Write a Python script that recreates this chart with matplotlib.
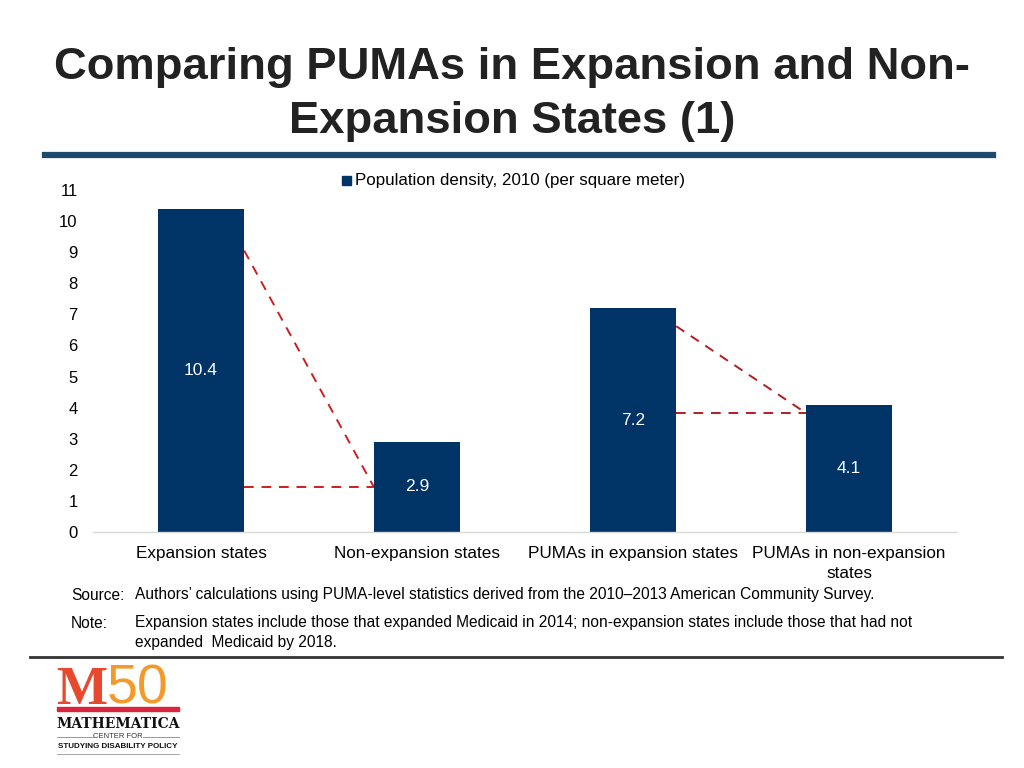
import numpy as np
import matplotlib
matplotlib.use("Agg")
from matplotlib import pyplot as plt
from matplotlib.lines import Line2D
from matplotlib.patches import Rectangle

plt.rcParams['font.family'] = ['Liberation Sans', 'DejaVu Sans']

# data
categories = ["Expansion states", "Non-expansion states",
              "PUMAs in expansion states", "PUMAs in non-expansion\nstates"]
density = [10.4, 2.9, 7.2, 4.1]
series_name = "Population density, 2010 (per square meter)"
yticks = list(range(0, 12))
# dashed connectors: (from bar, to bar, start value, end value)
connectors = [(0, 1, 9.05, 1.45), (2, 3, 6.62, 3.83)]
conn_colors = ["#cc1f1f", "#b01e23"]

navy = "#003366"
bar_w = 0.4

fig = plt.figure(figsize=(10.24, 7.68), dpi=100)
ax = fig.add_axes([93/1024, 1-532/768, 864/1024, 342/768])

x = np.arange(len(categories))
ax.bar(x, density, width=bar_w, color=navy, zorder=2)
for xi, v in zip(x, density):
    ax.text(xi, v/2, f"{v}", color="white", ha="center", va="center", fontsize=12.5, zorder=3)

# connectors
for (a, b, y0, y1), c in zip(connectors, conn_colors):
    xa = a + bar_w/2
    xb = b - bar_w/2
    ax.plot([xa, xb], [y0, y1], ls=(0, (5, 4)), color=c, lw=1.4, zorder=1)
    ax.plot([xa, xb], [y1, y1], ls=(0, (5, 4)), color=c, lw=1.4, zorder=1)

ax.set_xlim(-0.5, 3.5)
ax.set_ylim(0, 11)
ax.set_yticks(yticks)
ax.set_xticks(x)
ax.set_xticklabels(categories, fontsize=12.3, linespacing=1.4)
ax.tick_params(axis='y', length=0, pad=11, labelsize=12)
ax.tick_params(axis='x', length=0, pad=10)
for s in ["top", "right", "left"]:
    ax.spines[s].set_visible(False)
ax.spines["bottom"].set_color("#d9d9d9")
ax.spines["bottom"].set_linewidth(1)

# legend
fig.patches.append(Rectangle((342/1024, 1-185/768), 9/1024, 9/768, transform=fig.transFigure,
                             color=navy, figure=fig))
fig.text(355/1024, 1-180/768, series_name, fontsize=12.2, va="center", ha="left")

# title
fig.text(0.5, 1-68/768, "Comparing PUMAs in Expansion and Non-", fontsize=32.7, fontweight="bold",
         ha="center", va="center", color="#222222")
fig.text(0.5, 1-122/768, "Expansion States (1)", fontsize=32.7, fontweight="bold",
         ha="center", va="center", color="#222222")
fig.add_artist(Line2D([45/1024, 993/1024], [1-155/768]*2, color="#1c4a6c", lw=4.5,
                      transform=fig.transFigure))

# notes
fs = 11.2
fig.text(71/1024, 1-595/768, "Source:", fontsize=fs, va="center")
fig.text(135/1024, 1-595/768, "Authors\u2019 calculations using PUMA-level statistics derived from the 2010\u20132013 American Community Survey.",
         fontsize=fs, va="center")
fig.text(71/1024, 1-623/768, "Note:", fontsize=fs, va="center")
fig.text(135/1024, 1-623/768, "Expansion states include those that expanded Medicaid in 2014; non-expansion states include those that had not",
         fontsize=fs, va="center")
fig.text(135/1024, 1-642/768, "expanded  Medicaid by 2018.", fontsize=fs, va="center")
fig.add_artist(Line2D([30/1024, 1002/1024], [1-657/768]*2, color="#333333", lw=2,
                      transform=fig.transFigure))

# logo
fig.text(56/1024, 1-704/768, "M", fontsize=39, fontweight="bold", family="Liberation Serif",
         color="#e8482e", va="baseline", ha="left")
fig.text(107/1024, 1-704/768, "50", fontsize=40, color="#f39a2b", va="baseline", ha="left")
fig.patches.append(Rectangle((57/1024, 1-711/768), 122/1024, 4/768, transform=fig.transFigure,
                             color="#d7263d", figure=fig))
fig.text(118/1024, 1-724/768, "MATHEMATICA", fontsize=10, fontweight="bold", family="DejaVu Serif",
         va="center", ha="center", color="#111111")
fig.text(118/1024, 1-737/768, "CENTER FOR", fontsize=5.5, va="center", ha="center", color="#333333")
fig.add_artist(Line2D([57/1024, 93/1024], [1-737/768]*2, color="#888888", lw=0.6, transform=fig.transFigure))
fig.add_artist(Line2D([143/1024, 179/1024], [1-737/768]*2, color="#888888", lw=0.6, transform=fig.transFigure))
fig.text(118/1024, 1-746/768, "STUDYING DISABILITY POLICY", fontsize=5.8, fontweight="bold",
         va="center", ha="center", color="#111111")
fig.add_artist(Line2D([57/1024, 179/1024], [1-754/768]*2, color="#999999", lw=0.6, transform=fig.transFigure))

fig.savefig("out.png", dpi=100)
